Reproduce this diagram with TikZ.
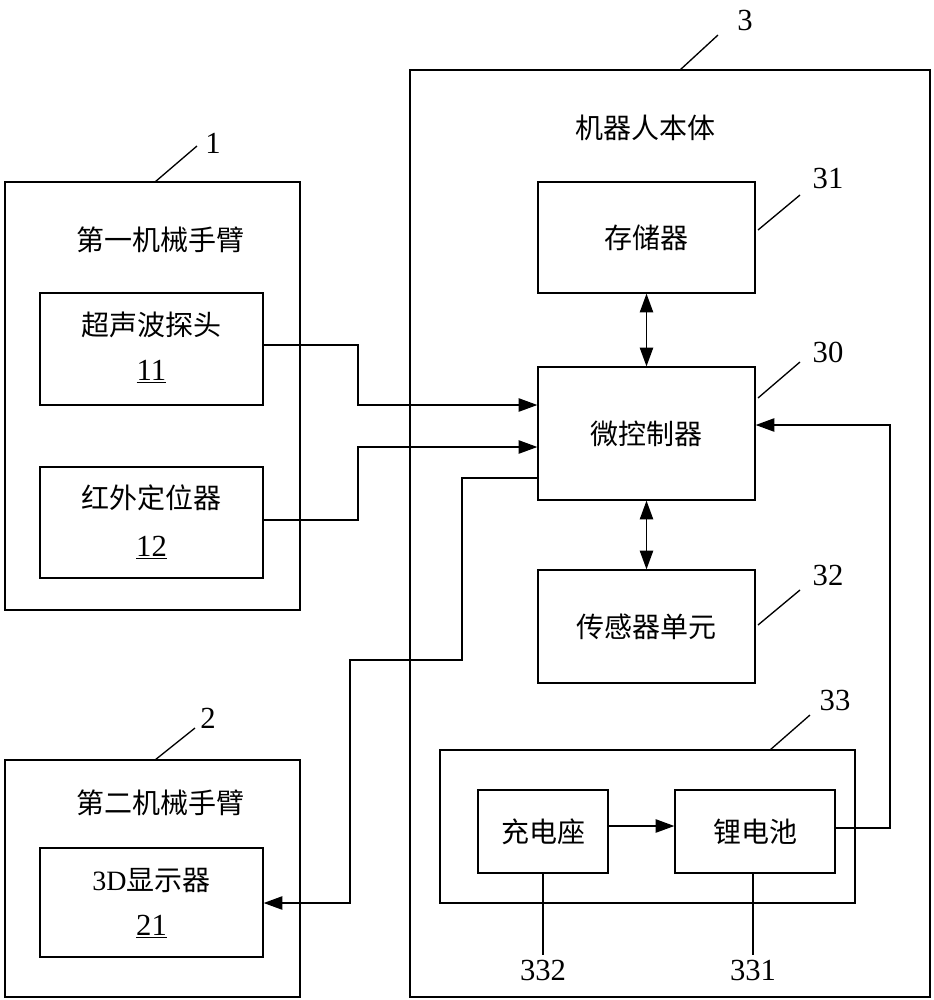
\documentclass[tikz,border=0pt]{standalone}
\usepackage{fontspec}
\setmainfont{Liberation Serif}
\newfontfamily\cjk{Noto Sans CJK SC}
\usetikzlibrary{arrows.meta}
\begin{document}
\begin{tikzpicture}[x=0.75pt,y=-0.75pt,line width=1pt,
 box/.style={draw},
 txt/.style={font=\cjk\fontsize{21}{24}\selectfont,inner sep=0},
 num/.style={font=\fontsize{23}{26}\selectfont,inner sep=0},
 arr/.style={-{Triangle[length=14pt,width=10pt]}},
 darr/.style={{Triangle[length=14pt,width=10pt]}-{Triangle[length=14pt,width=10pt]}}]
\useasboundingbox (0,0) rectangle (934,1000);
% outer boxes
\node[box,minimum width=295*0.75pt,minimum height=428*0.75pt] (b1) at (152.5,396) {};
\node[box,minimum width=295*0.75pt,minimum height=237*0.75pt] (b2) at (152.5,878.5) {};
\node[box,minimum width=520*0.75pt,minimum height=927*0.75pt] (b3) at (670,533.5) {};
\node[txt] (t1) at (160,240) {第一机械手臂};
\node[txt] (t2) at (160,803) {第二机械手臂};
\node[txt] (t3) at (645,128) {机器人本体};
% labels
\node[num] (n1) at (213,143) {1}; \coordinate (c1a) at (155,182); \coordinate (c1b) at (197,146); \draw (c1a)--(c1b);
\node[num] (n2) at (208,718) {2}; \coordinate (c2a) at (155,760); \coordinate (c2b) at (195,728); \draw (c2a)--(c2b);
\node[num] (n3) at (745,20) {3}; \coordinate (c3a) at (680,70); \coordinate (c3b) at (718,35); \draw (c3a)--(c3b);
% arm 1 inner
\node[box,minimum width=223*0.75pt,minimum height=112*0.75pt] (us) at (151.5,349) {};
\node[txt] at (151.5,325) {超声波探头};
\node[num] at (151.5,372) {\underline{11}};
\node[box,minimum width=223*0.75pt,minimum height=111*0.75pt] (ir) at (151.5,522.5) {};
\node[txt] at (151.5,498) {红外定位器};
\node[num] at (151.5,548) {\underline{12}};
\node[box,minimum width=223*0.75pt,minimum height=109*0.75pt] (dd) at (151.5,902.5) {};
\node[font=\fontsize{21}{24}\selectfont,inner sep=0] at (151.5,880) {3D{\cjk 显示器}};
\node[num] at (151.5,927) {\underline{21}};
% robot body
\node[box,minimum width=217*0.75pt,minimum height=111*0.75pt] (mem) at (646.5,237.5) {};
\node[txt] at (646.5,237.5) {存储器};
\node[box,minimum width=217*0.75pt,minimum height=133*0.75pt] (mcu) at (646.5,433.5) {};
\node[txt] at (646.5,433.5) {微控制器};
\node[box,minimum width=217*0.75pt,minimum height=113*0.75pt] (sen) at (646.5,626.5) {};
\node[txt] at (646.5,626.5) {传感器单元};
\node[box,minimum width=415*0.75pt,minimum height=153*0.75pt] (pw) at (647.5,826.5) {};
\node[box,minimum width=130*0.75pt,minimum height=83*0.75pt] (chg) at (543,831.5) {};
\node[txt] at (543,831.5) {充电座};
\node[box,minimum width=160*0.75pt,minimum height=83*0.75pt] (bat) at (755,831.5) {};
\node[txt] at (755,831.5) {锂电池};
\node[num] at (828,178) {31}; \draw (758,230)--(800,195);
\node[num] at (828,352) {30}; \draw (758,398)--(800,362);
\node[num] at (828,575) {32}; \draw (758,625)--(800,590);
\node[num] at (835,700) {33}; \draw (770,750)--(810,715);
\coordinate (d332) at (543,955); \coordinate (d331) at (753,955);
\draw (chg.south)--(d332); \draw (d331 |- bat.south)--(d331);
\node[num] at (543,970) {332};
\node[num] at (753,970) {331};
% connectors
\draw[darr] (mem.south)--(mcu.north);
\draw[darr] (mcu.south)--(sen.north);
\draw[arr] (chg.east |- 0,826)--(bat.west |- 0,826);
\draw[arr] (us.east |- 0,345)--(358,345)--(358,405)--(mcu.west |- 0,405);
\draw[arr] (ir.east |- 0,520)--(358,520)--(358,447)--(mcu.west |- 0,447);
\draw[arr] (mcu.west |- 0,478)--(462,478)--(462,660)--(350,660)--(350,903)--(dd.east |- 0,903);
\draw[arr] (bat.east |- 0,828)--(890,828)--(890,425)--(mcu.east |- 0,425);
\end{tikzpicture}
\end{document}
